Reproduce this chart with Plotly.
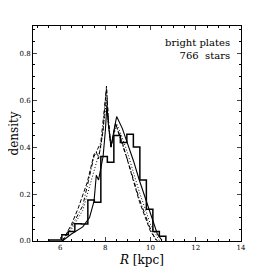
import plotly.graph_objects as go

# Histogram (bin edges in kpc, densities)
bin_start = 5.50
bin_width = 0.2876
hist_vals = [0.004, 0.004, 0.027, 0.040, 0.074, 0.072, 0.175, 0.165, 0.360,
             0.336, 0.450, 0.420, 0.455, 0.400, 0.260, 0.135, 0.040, 0.020]

# Model curves
solid_x = [6.10, 6.50, 7.00, 7.30, 7.50, 7.60, 7.70, 7.90, 8.00, 8.07, 8.13, 8.25, 8.38, 8.50, 8.75, 9.00, 9.25, 9.50, 9.75, 10.00, 10.30, 10.50]
solid_y = [0.000, 0.030, 0.060, 0.100, 0.170, 0.280, 0.260, 0.360, 0.470, 0.580, 0.500, 0.400, 0.470, 0.530, 0.480, 0.410, 0.340, 0.260, 0.190, 0.120, 0.030, 0.003]

dashed_x = [6.10, 6.50, 6.80, 7.20, 7.50, 7.60, 7.70, 7.90, 8.05, 8.13, 8.25, 8.45, 8.75, 9.00, 9.50, 10.00, 10.30]
dashed_y = [0.000, 0.070, 0.140, 0.250, 0.370, 0.380, 0.350, 0.470, 0.660, 0.520, 0.400, 0.500, 0.420, 0.340, 0.170, 0.040, 0.000]

dotted_x = [6.10, 6.50, 7.00, 7.50, 7.80, 8.05, 8.13, 8.25, 8.50, 8.75, 9.00, 9.50, 10.00, 10.40]
dotted_y = [0.000, 0.050, 0.130, 0.300, 0.400, 0.600, 0.500, 0.400, 0.500, 0.440, 0.370, 0.210, 0.070, 0.000]

dashdot_x = [6.10, 6.50, 7.00, 7.50, 7.60, 7.80, 8.05, 8.13, 8.25, 8.45, 8.75, 9.00, 9.50, 10.00, 10.25]
dashdot_y = [0.000, 0.060, 0.150, 0.360, 0.380, 0.420, 0.650, 0.520, 0.400, 0.500, 0.410, 0.340, 0.180, 0.050, 0.000]

x_ticks = [6, 8, 10, 12, 14]
y_ticks = [0.0, 0.2, 0.4, 0.6, 0.8]

edges = [bin_start + i * bin_width for i in range(len(hist_vals) + 1)]
hx = [edges[0]] + edges[:-1] + [edges[-1]]
hy = [0] + hist_vals + [0]

fig = go.Figure()
fig.add_trace(go.Scatter(x=hx, y=hy, mode="lines", line=dict(color="black", width=1.5, shape="hv"), hoverinfo="skip"))
fig.add_trace(go.Scatter(x=solid_x, y=solid_y, mode="lines", line=dict(color="black", width=1.1)))
fig.add_trace(go.Scatter(x=dashed_x, y=dashed_y, mode="lines", line=dict(color="black", width=1, dash="4px,2px")))
fig.add_trace(go.Scatter(x=dotted_x, y=dotted_y, mode="lines", line=dict(color="black", width=1, dash="1px,2px")))
fig.add_trace(go.Scatter(x=dashdot_x, y=dashdot_y, mode="lines", line=dict(color="black", width=1, dash="4px,2px,1px,2px")))

serif = "DejaVu Serif"
fig.update_layout(
    width=260, height=260,
    margin=dict(l=25, r=27, t=18, b=27, autoexpand=False),
    paper_bgcolor="white", plot_bgcolor="white",
    showlegend=False,
    font=dict(family=serif, color="black", size=7),
    xaxis=dict(range=[4.8, 14.0], tickvals=x_ticks, ticktext=[str(v) for v in x_ticks],
               ticks="inside", ticklen=4, tickwidth=1, showline=True, linecolor="black", linewidth=1,
               mirror="ticks", showgrid=False, zeroline=False, automargin=False,
               minor=dict(ticks="inside", dtick=0.5, ticklen=2, tickcolor="black", showgrid=False)),
    yaxis=dict(range=[0, 0.916], tickvals=y_ticks, ticktext=["%.1f" % v for v in y_ticks],
               ticks="inside", ticklen=4, tickwidth=1, showline=True, linecolor="black", linewidth=1,
               mirror="ticks", showgrid=False, zeroline=False, automargin=False,
               minor=dict(ticks="inside", dtick=0.05, ticklen=2, tickcolor="black", showgrid=False)),
    annotations=[
        dict(text="bright plates<br>766  stars", x=0.955, y=0.96, xref="paper", yref="paper",
             xanchor="right", yanchor="top", align="right", showarrow=False,
             font=dict(size=10, family=serif, color="black")),
        dict(text="density", x=-0.096, y=0.5, xref="paper", yref="paper", textangle=-90,
             xanchor="center", yanchor="middle", showarrow=False,
             font=dict(size=12, family=serif, color="black")),
        dict(text="<i>R</i> [kpc]", x=0.52, y=-0.09, xref="paper", yref="paper",
             xanchor="center", yanchor="middle", showarrow=False,
             font=dict(size=12, family=serif, color="black")),
    ],
)

fig.write_html("out.html")
